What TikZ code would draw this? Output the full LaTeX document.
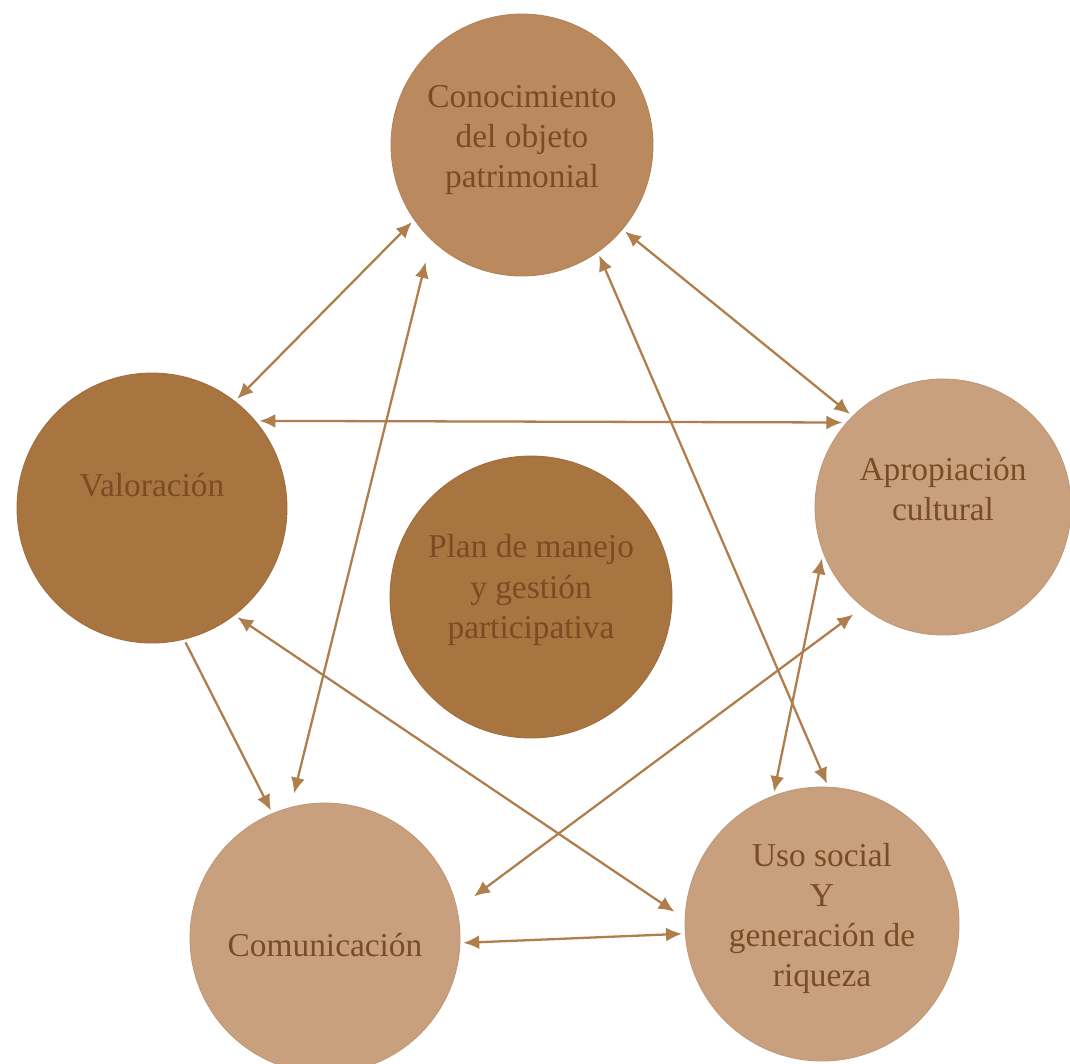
\documentclass[tikz,border=0pt]{standalone}
\usepackage{xcolor}
\usepackage{fontspec}
\setmainfont{Liberation Serif}
\usetikzlibrary{shapes,arrows.meta,positioning,calc}

\definecolor{cafeMedio}{RGB}{186,138,94}
\definecolor{cafeOscuro}{RGB}{168,116,63}
\definecolor{cafeClaro}{RGB}{201,160,126}
\definecolor{flechaCafe}{RGB}{176,126,76}
\definecolor{textoCafe}{RGB}{122,76,36}

\begin{document}
\begin{tikzpicture}[x=0.02cm, y=-0.02cm,
        circulo/.style={circle, draw=#1!95!black, fill=#1, line width=0.5pt, inner sep=0pt, outer sep=2pt},
        texto/.style={text=textoCafe, align=center, font=\fontsize{19}{22.8}\selectfont},
        flecha/.style={{Latex[length=9pt,width=8pt]}-{Latex[length=9pt,width=8pt]}, draw=flechaCafe, line width=1.3pt},
        flechauna/.style={-{Latex[length=9pt,width=8pt]}, draw=flechaCafe, line width=1.3pt}]
        \useasboundingbox (0,0) rectangle (1070,1063);
        \fill[white] (0,0) rectangle (1070,1063);

        \node (cono) [circulo=cafeMedio, minimum size=5.24cm, label={[texto, yshift=3pt]center:Conocimiento\\del objeto\\patrimonial}] at (522,145) {};
        \node (valo) [circulo=cafeOscuro, minimum size=5.4cm, label={[texto, yshift=13pt]center:Valoración}] at (152,508) {};
        \node (plan) [circulo=cafeOscuro, minimum size=5.64cm, label={[texto, yshift=4pt]center:Plan de manejo\\y gestión\\participativa}] at (531,597) {};
        \node (apro) [circulo=cafeClaro, minimum size=5.12cm, label={[texto, yshift=10pt]center:Apropiación\\cultural}] at (943,507) {};
        \node (comu) [circulo=cafeClaro, minimum size=5.4cm, label={[texto, yshift=-4pt]center:Comunicación}] at (325,938) {};
        \node (uso) [circulo=cafeClaro, minimum size=5.48cm, label={[texto, yshift=3pt]center:Uso social\\Y\\generación de\\riqueza}] at (822,924) {};

        % relaciones
        \draw[flecha] (cono.215) -- (valo.52);
        \draw[flecha, shorten <=6pt, shorten >=11pt] (comu.104) -- (cono.227);
        \draw[flecha] (cono.305) -- (uso.88);
        \draw[flecha] (cono.320) -- (apro.135);
        \draw[flecha] (valo.39) -- (apro.140);
        \draw[flechauna] (valo.284) -- (comu.113);
        \draw[flecha, shorten >=5pt] (valo.308) -- (uso.177);
        \draw[flecha, shorten <=10pt, shorten >=5pt] (comu.13) -- (apro.231);
        \draw[flecha] (comu.358) -- (uso.184);
        \draw[flecha] (uso.110) -- (apro.203);
    \end{tikzpicture}
\end{document}
